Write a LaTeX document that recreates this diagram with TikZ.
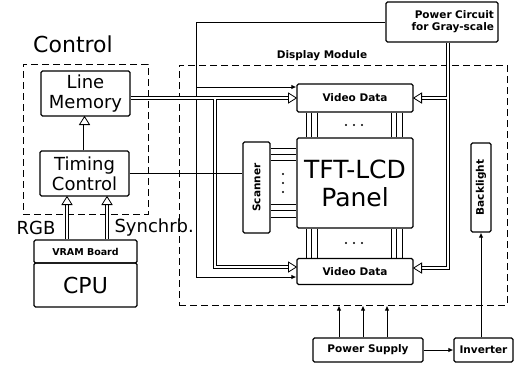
\documentclass[tikz,border=0pt]{standalone}
\usepackage{fontspec}
\setmainfont{DejaVu Sans}
\usetikzlibrary{arrows.meta,calc,decorations.markings}
\begin{document}
\begin{tikzpicture}[x=1pt,y=-1pt,
  box/.style={draw, line width=1.2pt, rounded corners=1.5pt, inner sep=0pt, align=center},
  dashbox/.style={draw, line width=1pt, dash pattern=on 7pt off 4pt, inner sep=0pt},
  big/.style={font=\fontsize{22}{24}\selectfont},
  mid/.style={font=\fontsize{18}{20}\selectfont},
  sm/.style={font=\bfseries\fontsize{10.5}{12}\selectfont},
  conn/.style={line width=1pt},
  thinl/.style={line width=0.9pt},
  arr/.style={conn, -{Latex[length=5pt,width=4.5pt]}},
  hollow/.style={line width=3.6pt, shorten >=3.5pt,
    postaction={draw=white, line width=2pt},
    postaction={decorate, decoration={markings, mark=at position 1 with {\draw[draw=black, fill=white, line width=0.8pt, solid, shorten >=0pt, shorten <=0pt] (0pt,0pt) -- (-8pt,5pt) -- (-8pt,-5pt) -- cycle;}}}}
]
\fill[white] (0,0) rectangle (517,365);
\useasboundingbox (0,0) rectangle (517,365);

% ---- Control side ----
\node[big] (ctrllbl) at (73,44) {Control};
\node[dashbox, minimum width=125, minimum height=150] (ctrl) at (85.5,139) {};
\node[box, mid, minimum width=89, minimum height=45] (lm) at (85.5,93.5) {Line\\Memory};
\node[box, mid, minimum width=89, minimum height=45] (tc) at (84.5,173.5) {Timing\\Control};
\node[box, minimum width=103, minimum height=23, font=\bfseries\fontsize{9.5}{10}\selectfont] (vram) at (85.5,251.5) {VRAM Board};
\node[box, big, minimum width=103, minimum height=44] (cpu) at (85.5,285) {CPU};
\node[mid] (rgbl) at (36,228) {RGB};
\node[mid, anchor=west] (synl) at (111,228) {Synchrb.};

% ---- Display side ----
\node[dashbox, minimum width=328, minimum height=240] (dm) at (343,185) {};
\node[sm] (dmlbl) at (322,56) {Display Module};
\node[box, sm, minimum width=112, minimum height=40, text width=104pt, align=right] (pc) at (442,22) {Power Circuit\\for Gray-scale};
\node[box, sm, minimum width=116, minimum height=28] (vd1) at (355,98) {Video Data};
\node[box, minimum width=116, minimum height=90, font=\fontsize{25}{28}\selectfont] (panel) at (355,183) {TFT-LCD\\Panel};
\node[box, sm, minimum width=116, minimum height=26] (vd2) at (355,271.5) {Video Data};
\node[box, sm, minimum width=27, minimum height=91] (sc) at (256.5,187.5) {\rotatebox{90}{Scanner}};
\node[box, sm, minimum width=20, minimum height=89] (bl) at (481,187.5) {\rotatebox{90}{Backlight}};
\node[box, sm, minimum width=110, minimum height=24] (ps) at (368,350) {Power Supply};
\node[box, sm, minimum width=59, minimum height=24] (inv) at (483.5,350) {Inverter};

% ---- coordinates ----
\coordinate (lx) at (196,0);
\coordinate (jx) at (215,0);
\coordinate (a1) at ($(vd1.west)+(0,-11)$);
\coordinate (a2) at ($(vd2.west)+(0,5.5)$);
\coordinate (h2) at ($(vd2.west)+(0,-4.5)$);
\coordinate (rx) at ($(pc.south)+(6,0)$);
\coordinate (h3) at ($(vd2.east)+(0,-3.5)$);
\coordinate (rgbs) at ($(vram.north)+(-18.5,0)$);
\coordinate (syns) at ($(vram.north)+(21.5,0)$);

% ---- control connectors ----
\draw[hollow] (tc.north) -- (tc.north |- lm.south);
\draw[hollow] (rgbs) -- (rgbs |- tc.south);
\draw[hollow] (syns) -- (syns |- tc.south);

% ---- power circuit single lines ----
\draw[arr] (pc.west) -| (lx |- a2) -- (a2);
\draw[arr] (lx |- a1) -- (a1);

% ---- line memory data ----
\draw[hollow] (lm.east |- vd1.west) -- (vd1.west);
\draw[hollow] ($(jx |- vd1.west)+(0,1)$) |- (h2);

% ---- timing to scanner ----
\draw[conn] (tc.east) -- (tc.east -| sc.west);

% ---- gray-scale power to video data ----
\draw[hollow] (rx) |- (h3);
\draw[hollow] ($(rx |- vd1.east)+(-1,0)$) -- (vd1.east);

% ---- video data <-> panel ----
\foreach \dx in {-49,-43.5,-38,36,41.5,47} {
  \draw[thinl] ($(vd1.south)+(\dx,0)$) -- ($(panel.north)+(\dx,0)$);
  \draw[thinl] ($(panel.south)+(\dx,0)$) -- ($(vd2.north)+(\dx,0)$);
}
\foreach \x in {346,354,362} {
  \fill (\x,125) circle (1.2);
  \fill (\x,243) circle (1.2);
}

% ---- scanner <-> panel ----
\foreach \dy in {-39.5,-33.5,-27,16.5,22.5,29.5}
  \draw[thinl] ($(sc.east)+(0,\dy)$) -- ($(sc.east -| panel.west)+(0,\dy)$);
\foreach \y in {174,183,192}
  \fill (283,\y) circle (1.2);

% ---- power supply ----
\foreach \dx in {-29,-5,19} {
  \coordinate (t) at ($(ps.north)+(\dx,0)$);
  \draw[arr] (t) -- (t |- dm.south);
}
\draw[arr] (ps.east) -- (ps.east -| inv.west);
\draw[arr] (inv.north -| bl.south) -- (bl.south);
\end{tikzpicture}
\end{document}
